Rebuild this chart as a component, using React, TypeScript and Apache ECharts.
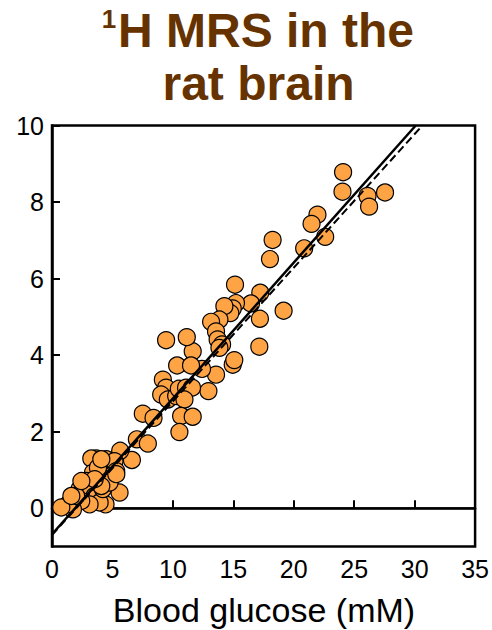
import React, { useEffect, useRef } from "react";
import * as echarts from "echarts";

const glucoseX = [
  24.08, 24.03, 26.1, 26.23, 27.55, 21.96, 21.47, 22.6, 20.86, 18.25,
  18.03, 19.16, 17.23, 17.2, 17.15, 16.46, 15.14, 15.22, 14.95, 14.75,
  14.26, 13.85, 13.16, 13.57, 13.7, 14.07, 13.85, 14.95, 15.08, 13.57,
  12.94, 12.41, 11.64, 11.15, 9.44, 10.35, 11.5, 9.17, 9.44, 9.03,
  9.58, 10.27, 10.49, 11.09, 11.58, 10.96, 10.68, 10.54, 11.64, 7.51,
  8.4, 7.02, 7.93, 6.61, 5.64, 5.59, 4.43, 3.66, 3.25, 4.49,
  5.17, 5.31, 4.9, 4.49, 3.94, 3.39, 3.8, 2.83, 2.28, 3.11,
  3.52, 3.94, 3.11, 2.42, 1.73, 1.32, 0.77, 2.0, 4.21, 4.76,
  4.08, 3.53, 1.6, 2.43, 5.32, 4.08,
];
const brainY = [
  8.78, 8.27, 8.16, 7.88, 8.25, 7.67, 7.43, 7.09, 6.79, 7.01,
  6.51, 5.16, 5.63, 4.95, 4.22, 5.35, 5.84, 5.36, 5.22, 5.1,
  5.28, 4.93, 4.87, 4.62, 4.41, 4.28, 4.19, 3.75, 3.87, 3.49,
  3.06, 3.64, 4.1, 4.47, 4.39, 3.73, 3.73, 3.36, 3.15, 2.97,
  2.84, 2.93, 3.12, 3.15, 3.15, 2.84, 2.41, 1.99, 2.39, 2.47,
  2.36, 1.8, 1.69, 1.26, 1.5, 0.41, 0.1, 1.3, 1.3, 1.28,
  1.23, 0.97, 0.84, 0.76, 0.63, 0.93, 1.06, 0.71, 0.5, 0.5,
  0.32, 0.15, 0.1, 0.19, -0.03, 0.1, 0.02, 0.32, 0.5, 0.67,
  0.58, 0.76, 0.32, 0.71, 0.89, 1.28,
];
const fitSolid = [
  [0, -0.68],
  [30.09, 10],
];
const fitDashed = [
  [0, -0.7],
  [30.64, 10],
];
const zeroLine = [
  [0, 0],
  [35, 0],
];
const yTicks = [0, 2, 4, 6, 8, 10];

export default function App() {
  const ref = useRef<HTMLDivElement>(null);
  useEffect(() => {
    if (!ref.current) return;
    const chart = echarts.init(ref.current, undefined, { renderer: "svg" });
    const font = "Liberation Sans";
    const points = glucoseX.map((x, i) => [x, brainY[i]]);
    chart.setOption({
      animation: false,
      backgroundColor: "#fff",
      textStyle: { fontFamily: font },
      grid: {
        left: 52,
        right: 16,
        top: 125.5,
        bottom: 83.5,
        show: true,
        borderColor: "#000",
        borderWidth: 2.5,
        backgroundColor: "transparent",
      },
      xAxis: {
        type: "value",
        min: 0,
        max: 35,
        interval: 5,
        axisLine: { show: true, lineStyle: { color: "#000", width: 2.5 } },
        axisTick: { show: true, inside: true, length: 8, lineStyle: { color: "#000", width: 2 } },
        axisLabel: { color: "#000", fontSize: 25, margin: 10, fontFamily: font },
        splitLine: { show: false },
      },
      yAxis: {
        type: "value",
        min: -1,
        max: 10,
        axisLine: { show: true, lineStyle: { color: "#000", width: 2.5 } },
        axisTick: {
          show: true,
          inside: true,
          length: 8,
          customValues: yTicks,
          lineStyle: { color: "#000", width: 2 },
        },
        axisLabel: { color: "#000", fontSize: 25, margin: 8, fontFamily: font, customValues: yTicks },
        splitLine: { show: false },
      },
      graphic: [
        {
          type: "text",
          x: 109,
          y: 19,
          style: {
            text: "1",
            font: `bold 26px "${font}"`,
            fill: "#663300",
            textAlign: "center",
            textVerticalAlign: "middle",
            align: "center",
            verticalAlign: "middle",
          },
        },
        {
          type: "text",
          x: 266,
          y: 30.5,
          style: {
            text: "H MRS in the",
            font: `bold 48px "${font}"`,
            fill: "#663300",
            textAlign: "center",
            textVerticalAlign: "middle",
            align: "center",
            verticalAlign: "middle",
          },
        },
        {
          type: "text",
          x: 258.5,
          y: 83.5,
          style: {
            text: "rat brain",
            font: `bold 48px "${font}"`,
            fill: "#663300",
            textAlign: "center",
            textVerticalAlign: "middle",
            align: "center",
            verticalAlign: "middle",
          },
        },
        {
          type: "text",
          x: 264,
          y: 610,
          style: {
            text: "Blood glucose (mM)",
            font: `34px "${font}"`,
            fill: "#000",
            textAlign: "center",
            textVerticalAlign: "middle",
            align: "center",
            verticalAlign: "middle",
          },
        },
      ],
      series: [
        {
          type: "line",
          data: zeroLine,
          symbol: "none",
          lineStyle: { color: "#000", width: 2 },
          z: 1,
        },
        {
          type: "scatter",
          data: points,
          symbol: "circle",
          symbolSize: 17,
          itemStyle: { color: "#FFA445", borderColor: "#000", borderWidth: 1.2, opacity: 1 },
          z: 2,
        },
        {
          type: "line",
          data: fitDashed,
          symbol: "none",
          lineStyle: { color: "#000", width: 2, type: [8, 4] },
          z: 3,
        },
        {
          type: "line",
          data: fitSolid,
          symbol: "none",
          lineStyle: { color: "#000", width: 2.5 },
          z: 4,
        },
      ],
    });
    return () => chart.dispose();
  }, []);
  return <div ref={ref} style={{ width: 492, height: 630, position: "absolute", left: 0, top: 0 }} />;
}
